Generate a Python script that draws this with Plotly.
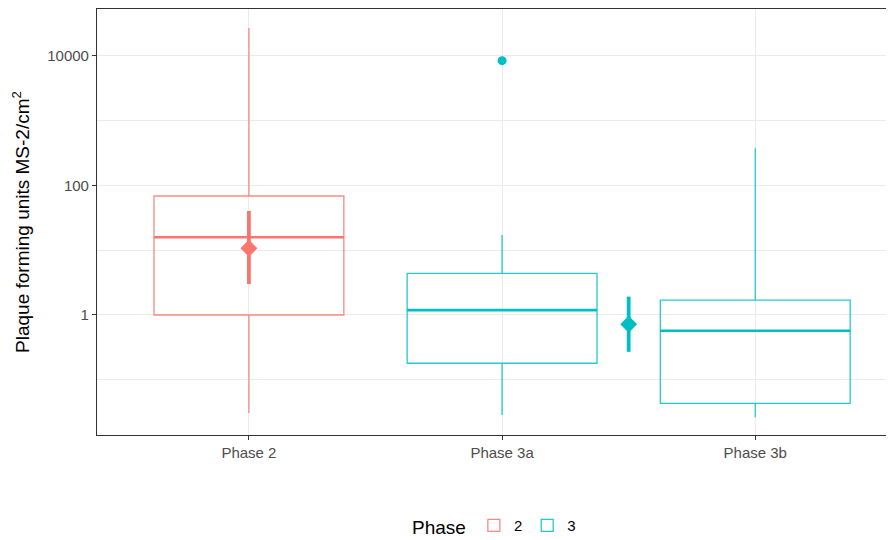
import plotly.graph_objects as go

# ---- data ----
categories = ["Phase 2", "Phase 3a", "Phase 3b"]
groups = ["2", "3", "3"]
q1 = [1.0, 0.18, 0.0434]
median = [15.8, 1.19, 0.57]
q3 = [68.6, 4.4, 1.70]
lower_whisker = [0.0307, 0.0286, 0.0264]
upper_whisker = [26900, 17.2, 374]

outlier_cat = [1]
outlier_val = [8400]

# point-range summaries per phase group (x position on category axis)
pr_groups = ["2", "3"]
pr_x = [0, 1.5]
pr_mid = [10.7, 0.72]
pr_low = [3.0, 0.27]
pr_high = [40.3, 1.92]

y_ticks = [1, 100, 10000]
y_minor = [0.1, 10, 1000]

colors = {"2": "#F8766D", "3": "#00BFC4"}
box_line = {"2": "rgba(248,118,109,0.85)", "3": "rgba(0,191,196,0.85)"}
BOX_W = 0.75

fig = go.Figure()
shown = set()
for i, cat in enumerate(categories):
    g = groups[i]
    fig.add_trace(go.Box(
        x=[i], q1=[q1[i]], median=[median[i]], q3=[q3[i]],
        lowerfence=[lower_whisker[i]], upperfence=[upper_whisker[i]],
        width=BOX_W, whiskerwidth=0, boxpoints=False,
        fillcolor="rgba(255,255,255,0)",
        line=dict(color=box_line[g], width=1.3),
        name=g, legendgroup=g, showlegend=g not in shown,
        hoverinfo="skip",
    ))
    shown.add(g)
    # thicker median line (ggplot fatten)
    fig.add_trace(go.Scatter(
        x=[i - BOX_W / 2, i + BOX_W / 2], y=[median[i], median[i]],
        mode="lines", line=dict(color=colors[g], width=2.6),
        legendgroup=g, showlegend=False, hoverinfo="skip",
    ))

fig.add_trace(go.Scatter(
    x=outlier_cat, y=outlier_val, mode="markers",
    marker=dict(color=colors["3"], size=9),
    legendgroup="3", showlegend=False,
))

for k, g in enumerate(pr_groups):
    fig.add_trace(go.Scatter(
        x=[pr_x[k]], y=[pr_mid[k]], mode="markers",
        marker=dict(symbol="diamond", size=13, color=colors[g]),
        error_y=dict(type="data", symmetric=False,
                     array=[pr_high[k] - pr_mid[k]],
                     arrayminus=[pr_mid[k] - pr_low[k]],
                     color=colors[g], thickness=3.8, width=0),
        legendgroup=g, showlegend=False,
    ))

axis_col = "#333333"
fig.update_layout(
    width=886, height=532,
    margin=dict(l=89, r=0, t=1, b=105, autoexpand=False),
    paper_bgcolor="white", plot_bgcolor="white",
    font=dict(family="Liberation Sans, Arial, sans-serif", color="black"),
    showlegend=True,
    legend=dict(
        orientation="h", x=0.5, xanchor="center",
        yref="container", y=0.025, yanchor="middle",
        title=dict(text="Phase", font=dict(size=19, color="black")),
        font=dict(size=15, color="black"),
        itemwidth=30,
    ),
)
fig.update_xaxes(
    range=[-0.6, 2.548],
    tickmode="array", tickvals=list(range(len(categories))), ticktext=categories,
    tickfont=dict(size=15, color="#4D4D4D"),
    showgrid=True, gridcolor="#EBEBEB", gridwidth=1.1,
    showline=True, linecolor=axis_col, linewidth=1.1, mirror=True,
    ticks="outside", ticklen=4, tickcolor=axis_col, tickwidth=1.1,
    zeroline=False,
)
fig.update_yaxes(
    type="log", range=[-1.852, 4.722],
    tickmode="array", tickvals=y_ticks, ticktext=[str(v) for v in y_ticks],
    tickfont=dict(size=15, color="#4D4D4D"),
    showgrid=True, gridcolor="#EBEBEB", gridwidth=1.1,
    minor=dict(tickmode="array", tickvals=y_minor, showgrid=True,
               gridcolor="#EBEBEB", gridwidth=0.6, ticks=""),
    showline=True, linecolor=axis_col, linewidth=1.1, mirror=False,
    ticks="outside", ticklen=4, tickcolor=axis_col, tickwidth=1.1,
    title=dict(text="Plaque forming units MS-2/cm<sup>2</sup>",
               font=dict(size=19, color="black"), standoff=12),
    zeroline=False,
)

fig.write_html("out.html")
